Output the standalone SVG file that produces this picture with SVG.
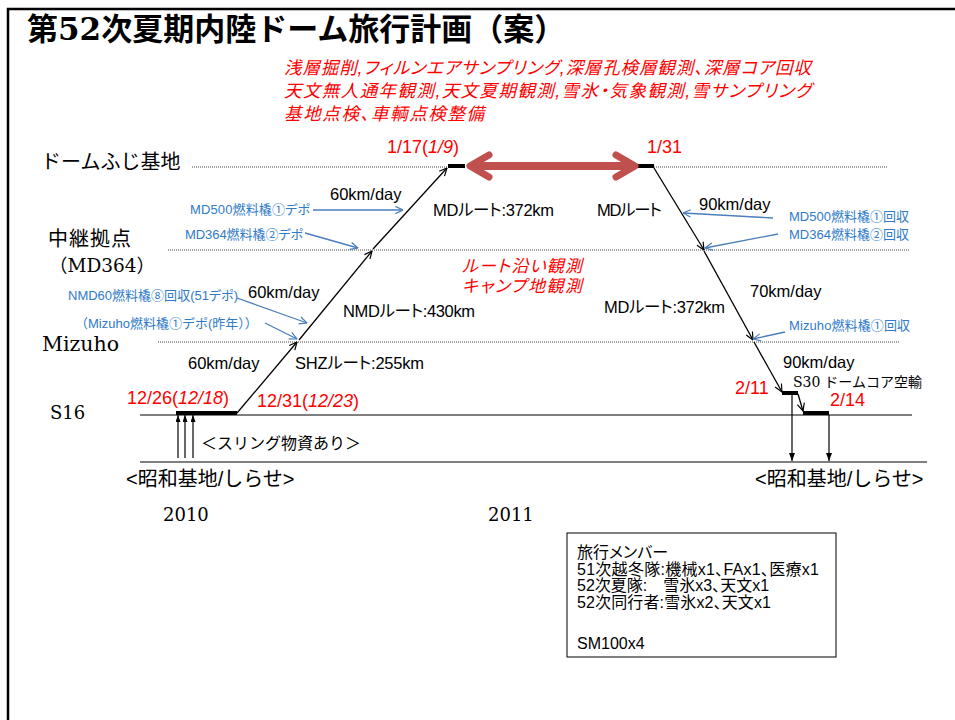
<svg xmlns="http://www.w3.org/2000/svg" width="955" height="720" viewBox="0 0 955 720">
<style>
text{font-family:"Liberation Sans","Noto Sans CJK JP",sans-serif;fill:#000;font-feature-settings:"palt";}
.np{font-feature-settings:normal;}
.ser{font-family:"DejaVu Serif","Noto Sans CJK JP",serif;}
.red{fill:#FF0000;}
.it{font-style:italic;}
.blue{fill:#2F7BC8;font-size:13px;}
.lbl{font-size:16.5px;}
.dot{stroke:#444;stroke-width:1;stroke-dasharray:1 1;fill:none;}
.solid{stroke:#000;stroke-width:1.2;fill:none;}
.route{stroke:#000;stroke-width:1.3;fill:none;marker-end:url(#oa);}
.barr{stroke:#4A7EBB;stroke-width:1.3;fill:none;marker-end:url(#ob);}
.bar{stroke:#000;stroke-width:4;fill:none;}
.down{stroke:#000;stroke-width:1.2;fill:none;marker-end:url(#fa);}
.up{stroke:#000;stroke-width:1.2;fill:none;marker-end:url(#fu);}
</style>
<defs>
<marker id="oa" viewBox="0 0 10 10" refX="9.5" refY="5" markerWidth="9" markerHeight="9" markerUnits="userSpaceOnUse" orient="auto"><path d="M1,1 L9.5,5 L1,9" fill="none" stroke="#000" stroke-width="1.3"/></marker>
<marker id="ob" viewBox="0 0 10 10" refX="9.5" refY="5" markerWidth="9" markerHeight="9" markerUnits="userSpaceOnUse" orient="auto"><path d="M1,1 L9.5,5 L1,9" fill="none" stroke="#4A7EBB" stroke-width="1.3"/></marker>
<marker id="fa" viewBox="0 0 10 10" refX="10" refY="5" markerWidth="8" markerHeight="6" preserveAspectRatio="none" markerUnits="userSpaceOnUse" orient="auto"><path d="M0,0 L10,5 L0,10 z" fill="#000"/></marker>
<marker id="fu" viewBox="0 0 10 10" refX="10" refY="5" markerWidth="7" markerHeight="5" preserveAspectRatio="none" markerUnits="userSpaceOnUse" orient="auto"><path d="M0,0 L10,5 L0,10 z" fill="#000"/></marker>
</defs>
<rect width="955" height="720" fill="#fff"/>
<path d="M8,720 V9 H955" fill="none" stroke="#000" stroke-width="2.5"/>

<g id="title">
<text class="np" x="27" y="40" font-size="31" font-weight="bold" style="font-family:'Noto Sans CJK JP',sans-serif">第<tspan style="font-family:'DejaVu Serif',serif">52</tspan>次夏期内陸ドーム旅行計画（案）</text>
</g>

<g id="dome-activities">
<text class="red it" x="284" y="74" font-size="17.5" textLength="527">浅層掘削,フィルンエアサンプリング,深層孔検層観測、深層コア回収</text>
<text class="red it" x="284" y="97" font-size="17.5" textLength="527">天文無人通年観測,天文夏期観測,雪氷・気象観測,雪サンプリング</text>
<text class="red it" x="284" y="120" font-size="17.5" textLength="200">基地点検、車輌点検整備</text>
</g>

<g id="level-dome">
<text class="np" x="41" y="169" font-size="20">ドームふじ基地</text>
<path class="dot" d="M192,167 H448 M654,167 H887"/>
<path class="bar" d="M448,166 H465 M638,166 H654"/>
<text class="red" x="387" y="153" font-size="18">1/17(<tspan class="it">1/9</tspan>)</text>
<text class="red" x="647" y="153" font-size="18">1/31</text>
</g>

<g id="level-md364">
<text x="48" y="246" font-size="20" textLength="83">中継拠点</text>
<text class="ser np" x="49" y="272" font-size="18.5">（MD364）</text>
<path class="dot" d="M168,250 H910"/>
</g>

<g id="level-mizuho">
<text class="ser" x="42" y="351" font-size="20.5">Mizuho</text>
<path class="dot" d="M158,342 H900"/>
</g>

<g id="level-s16">
<text class="ser" x="50" y="419" font-size="18">S16</text>
<path class="solid" d="M140,415 H912"/>
<path class="bar" d="M176,413 H237"/>
<text class="red" x="127" y="404" font-size="18">12/26(<tspan class="it">12/18</tspan>)</text>
<text class="red" x="257" y="407" font-size="18">12/31(<tspan class="it">12/23</tspan>)</text>
<path class="bar" d="M782,393 H798 M803,413 H829"/>
<text class="red" x="735" y="394" font-size="18">2/11</text>
<text class="red" x="830" y="406" font-size="18">2/14</text>
</g>

<g id="level-syowa">
<path class="solid" d="M140,462 H927"/>
<text class="np" x="126" y="486" font-size="20">&lt;昭和基地/しらせ&gt;</text>
<text class="np" x="755" y="486" font-size="20">&lt;昭和基地/しらせ&gt;</text>
<text class="np" x="201" y="449" font-size="16">＜スリング物資あり＞</text>
</g>

<g id="years">
<text class="ser" x="163" y="521" font-size="18">2010</text>
<text class="ser" x="488" y="521" font-size="18">2011</text>
</g>

<g id="connectors">
<path class="route" d="M237,413 L297,342"/>
<path class="route" d="M299,340 L372,251" stroke-width="1.8"/>
<path class="route" d="M373,249 L447,168"/>
<path class="route" d="M654,168 L704,250"/>
<path class="route" d="M704,251 L753,340"/>
<path class="route" d="M754,342 L782,392"/>
<path class="route" d="M798,394 L803,411"/>
<path class="down" d="M792,395 V461"/>
<path class="down" d="M829,415 V461"/>
<path class="up" d="M178,458 V415"/>
<path class="up" d="M185,458 V415"/>
<path class="up" d="M193,458 V415"/>
<path d="M478,166 H627" stroke="#C0504D" stroke-width="8" stroke-linecap="round" fill="none"/>
<path d="M489,155 L470,166 L489,177 M616,155 L635,166 L616,177" stroke="#C0504D" stroke-width="7" stroke-linecap="round" stroke-linejoin="round" fill="none"/>
<path class="barr" d="M313,210 L403,210"/>
<path class="barr" d="M305,233 L358,248"/>
<path class="barr" d="M237,298 L307,323"/>
<path class="barr" d="M265,323 L297,339"/>
<path class="barr" d="M773,218 L683,213"/>
<path class="barr" d="M778,234 L705,248"/>
<path class="barr" d="M785,332 L753,339"/>
</g>

<g id="route-labels">
<text class="lbl" x="330" y="200">60km/day</text>
<text class="lbl" x="433" y="216" textLength="121">MDルート:372km</text>
<text class="lbl" x="597" y="216" textLength="65">MDルート</text>
<text class="lbl" x="699" y="210">90km/day</text>
<text class="lbl" x="248" y="298">60km/day</text>
<text class="lbl" x="343" y="317" textLength="132">NMDルート:430km</text>
<text class="lbl" x="188" y="369">60km/day</text>
<text class="lbl" x="295" y="369" textLength="129">SHZルート:255km</text>
<text class="lbl" x="604" y="313" textLength="121">MDルート:372km</text>
<text class="lbl" x="750" y="297">70km/day</text>
<text class="lbl" x="783" y="368">90km/day</text>
<text class="np" x="793" y="387" font-size="14"><tspan class="ser">S30</tspan> ドームコア空輸</text>
<text class="red it" x="462" y="272" font-size="17" textLength="120">ルート沿い観測</text>
<text class="red it" x="462" y="292" font-size="17" textLength="120">キャンプ地観測</text>
</g>

<g id="fuel-notes">
<text class="blue" x="190" y="214" textLength="120">MD500燃料橇①デポ</text>
<text class="blue" x="185" y="239" textLength="118">MD364燃料橇②デポ</text>
<text class="blue" x="68" y="300" textLength="170">NMD60燃料橇⑧回収(51デポ)</text>
<text class="blue np" x="75" y="328">（Mizuho燃料橇①デポ(昨年））</text>
<text class="blue" x="789" y="221" textLength="120">MD500燃料橇①回収</text>
<text class="blue" x="789" y="239" textLength="120">MD364燃料橇②回収</text>
<text class="blue" x="789" y="330" textLength="121">Mizuho燃料橇①回収</text>
</g>

<g id="members">
<rect x="567" y="533" width="269" height="124" fill="#fff" stroke="#000" stroke-width="1"/>
<text x="577" y="558" font-size="16">旅行メンバー</text>
<text x="577" y="575" font-size="16" textLength="242">51次越冬隊:機械x1、FAx1、医療x1</text>
<text x="577" y="591" font-size="16">52次夏隊:　雪氷x3、天文x1</text>
<text x="577" y="608" font-size="16" textLength="194">52次同行者:雪氷x2、天文x1</text>
<text x="577" y="649" font-size="16">SM100x4</text>
</g>
</svg>
